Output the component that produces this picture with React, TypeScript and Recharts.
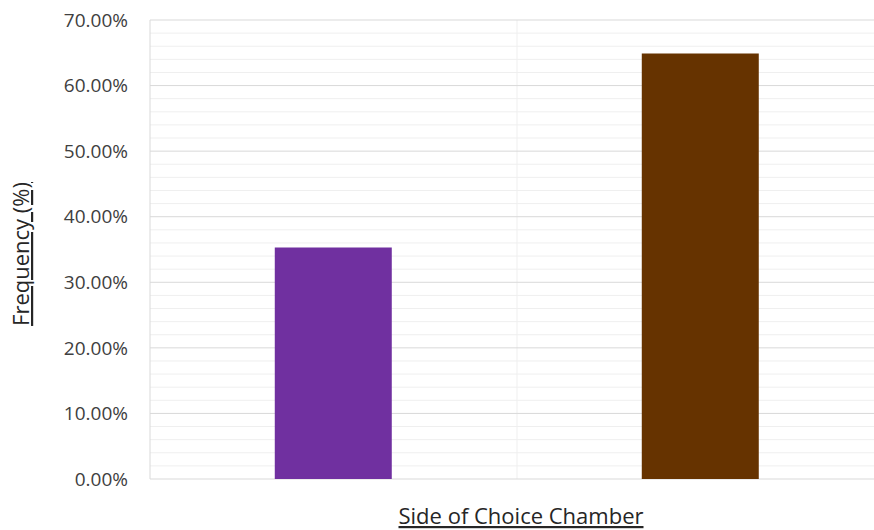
import { BarChart, Bar, XAxis, YAxis, CartesianGrid, Cell } from "recharts";

const sides = ["Left", "Right"];
const frequencies = [35.3, 64.9];
const barColors = ["#7030A0", "#663300"];
const yTicks = [0, 10, 20, 30, 40, 50, 60, 70];
const yMinorTicks = [2, 4, 6, 8, 12, 14, 16, 18, 22, 24, 26, 28, 32, 34, 36, 38, 42, 44, 46, 48, 52, 54, 56, 58, 62, 64, 66, 68];
// positions on a hidden 0..2 axis: category centres and the boundary between them
const xMinorGrid = [0.5, 1.5];
const xMajorGrid = [1];

const data = sides.map((side, i) => ({ side, value: frequencies[i] }));

const FONT = "'Open Sans', sans-serif";
const MAJOR = "#d9d9d9";
const MINOR = "#efefef";

export default function App() {
  return (
    <div
      style={{
        position: "absolute",
        left: 0,
        top: 0,
        width: 874,
        height: 530,
        overflow: "hidden",
        background: "#fff",
      }}
    >
      <BarChart
        width={884}
        height={530}
        data={data}
        margin={{ top: 20, right: 0, bottom: 51, left: 0 }}
        barCategoryGap="34%"
      >
        <CartesianGrid
          xAxisId="grid"
          horizontalValues={yMinorTicks}
          verticalValues={xMinorGrid}
          stroke={MINOR}
        />
        <CartesianGrid
          xAxisId="grid"
          horizontalValues={yTicks}
          verticalValues={xMajorGrid}
          stroke={MAJOR}
        />
        <XAxis dataKey="side" height={0} tick={false} tickLine={false} axisLine={{ stroke: MAJOR }} />
        <XAxis xAxisId="grid" type="number" domain={[0, 2]} hide />
        <YAxis
          width={150}
          domain={[0, 70]}
          ticks={yTicks}
          interval={0}
          tickLine={false}
          tickSize={0}
          tickMargin={22}
          tickFormatter={(v: number) => `${v.toFixed(2)}%`}
          tick={{ fill: "#404040", fontSize: 19, fontFamily: FONT }}
          axisLine={{ stroke: MAJOR }}
        />
        <Bar dataKey="value" isAnimationActive={false}>
          {data.map((d, i) => (
            <Cell key={d.side} fill={barColors[i]} />
          ))}
        </Bar>
      </BarChart>

      {/* axis titles */}
      <svg
        width={874}
        height={530}
        style={{ position: "absolute", left: 0, top: 0, pointerEvents: "none" }}
      >
        <text
          x={29}
          y={254}
          transform="rotate(-90 29 254)"
          textAnchor="middle"
          fill="#262626"
          fontSize={22}
          fontFamily={FONT}
          textDecoration="underline"
        >
          Frequency (%)
        </text>
        <text
          x={521}
          y={524}
          textAnchor="middle"
          fill="#262626"
          fontSize={22}
          fontFamily={FONT}
          textDecoration="underline"
        >
          Side of Choice Chamber
        </text>
      </svg>
    </div>
  );
}
